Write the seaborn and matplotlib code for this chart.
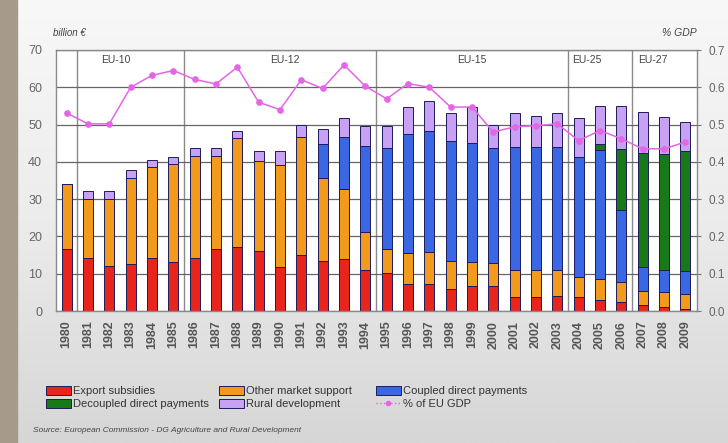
import numpy as np
import matplotlib
matplotlib.use('Agg')
import matplotlib.pyplot as plt
import seaborn as sns
from matplotlib.patches import Patch, Rectangle
from matplotlib.lines import Line2D

years = [str(y) for y in range(1980, 2010)]
export_subsidies = [16.7, 14.2, 12.2, 12.7, 14.2, 13.1, 14.2, 16.7, 17.1, 16.2, 11.8, 14.9, 13.3, 14.0, 10.9,
                    10.2, 7.3, 7.3, 5.8, 6.6, 6.6, 3.8, 3.8, 4.0, 3.8, 3.0, 2.4, 1.5, 1.0, 0.5]
other_market = [17.4, 15.9, 17.9, 22.9, 24.4, 26.4, 27.5, 25.0, 29.2, 23.9, 27.4, 31.8, 22.4, 18.6, 10.2,
                6.4, 8.2, 8.5, 7.7, 6.5, 6.2, 7.1, 7.3, 6.9, 5.3, 5.7, 5.4, 3.8, 4.1, 4.1]
coupled = [0, 0, 0, 0, 0, 0, 0, 0, 0, 0, 0, 0, 9.0, 14.1, 23.1,
           27.2, 32.1, 32.5, 32.1, 31.9, 30.8, 33.2, 33.0, 33.2, 32.3, 34.5, 19.2, 6.5, 5.8, 6.1]
decoupled = [0, 0, 0, 0, 0, 0, 0, 0, 0, 0, 0, 0, 0, 0, 0,
             0, 0, 0, 0, 0, 0, 0, 0, 0, 0, 1.6, 16.5, 30.5, 31.1, 32.2]
rural = [0, 2.0, 2.0, 2.1, 1.8, 1.8, 2.0, 2.0, 2.1, 2.9, 3.6, 3.3, 4.0, 5.1, 5.4,
         5.8, 7.1, 8.0, 7.6, 9.7, 6.4, 9.0, 8.3, 8.9, 10.3, 10.3, 11.6, 11.2, 10.1, 7.7]
gdp_share = [0.531, 0.502, 0.502, 0.600, 0.632, 0.645, 0.621, 0.609, 0.654, 0.560, 0.540, 0.620, 0.597, 0.660, 0.603,
             0.569, 0.610, 0.600, 0.547, 0.547, 0.480, 0.494, 0.497, 0.502, 0.457, 0.484, 0.462, 0.435, 0.435, 0.453]

eras = ['EU-10', 'EU-12', 'EU-15', 'EU-25', 'EU-27']
series_names = ['Export subsidies', 'Other market support', 'Coupled direct payments',
                'Decoupled direct payments', 'Rural development']
colors = ['#e8251b', '#f39a1c', '#3a68e4', '#177a17', '#c8a0f4']
line_color = '#e466e6'
edge = '#1c1c5a'

sns.set_style('white')
plt.rcParams['font.family'] = ['Liberation Sans', 'DejaVu Sans']

fig = plt.figure(figsize=(7.28, 4.43), dpi=100)

# background gradient + left strip
bg = fig.add_axes([0, 0, 1, 1], zorder=-10)
grad = np.linspace(0, 1, 256).reshape(-1, 1)
bg.imshow(grad, aspect='auto', cmap=matplotlib.colors.LinearSegmentedColormap.from_list(
    'bg', ['#f8f8f8', '#ececec', '#d6d6d6']), extent=[0, 1, 0, 1])
bg.add_patch(Rectangle((0, 0), 17 / 728, 1, color='#a69a8b'))
bg.set_xlim(0, 1)
bg.set_ylim(0, 1)
bg.axis('off')

ax = fig.add_axes([56 / 728, 132 / 443, 641 / 728, 261 / 443])
ax.set_facecolor('white')

bottom = np.zeros(len(years))
for vals, col in zip([export_subsidies, other_market, coupled, decoupled, rural], colors):
    sns.barplot(x=years, y=vals, bottom=bottom, color=col, saturation=1, width=0.47,
                edgecolor=edge, linewidth=0.7, errorbar=None, ax=ax)
    bottom = bottom + np.array(vals)

ax.set_xlim(-0.5, 29.55)
ax.set_ylim(0, 70)
ax.set_yticks(range(0, 71, 10))
ax.grid(axis='y', color='#666666', lw=0.9)
ax.set_axisbelow(True)
ax.set_xlabel('')
ax.set_ylabel('')
for s in ax.spines.values():
    s.set_color('#8a8a8a')
    s.set_linewidth(1)
ax.tick_params(axis='y', length=0, pad=10, labelsize=9, labelcolor='#666666')
ax.tick_params(axis='x', length=3, color='#777777', pad=4, labelsize=9, labelcolor='#555555')
for lab in ax.get_xticklabels():
    lab.set_rotation(90)
    lab.set_fontweight('bold')

# enlargement dividers and labels
for xb in [0.5, 5.5, 14.5, 23.5, 26.5]:
    ax.axvline(xb, color='#8a8a8a', lw=1, zorder=0.5)
for name, xp in zip(eras, [2.3, 10.25, 19.0, 24.4, 27.5]):
    ax.text(xp, 67.4, name, ha='center', va='center', fontsize=7.5, color='#444444')

ax2 = ax.twinx()
sns.lineplot(x=np.arange(len(years)), y=gdp_share, ax=ax2, color=line_color, lw=1.1,
             marker='o', markersize=4, markeredgecolor=line_color)
ax2.set_ylim(0, 0.7)
ax2.set_yticks(np.arange(0, 0.71, 0.1))
ax2.set_yticklabels([f'{v:.1f}' for v in np.arange(0, 0.71, 0.1)])
ax2.tick_params(axis='y', length=3, color='#777777', pad=5, labelsize=8.5, labelcolor='#666666')
for s in ax2.spines.values():
    s.set_visible(False)
ax2.grid(False)

fig.text(53 / 728, 1 - 33 / 443, 'billion €', fontsize=7, style='italic', color='#444444', va='center')
fig.text(697 / 728, 1 - 33 / 443, '% GDP', fontsize=7.5, style='italic', color='#444444', va='center', ha='right')
fig.text(33 / 728, 1 - 430 / 443, 'Source: European Commission - DG Agriculture and Rural Development',
         fontsize=6, style='italic', color='#444444', va='center')

# legend in three columns
patches = [Patch(facecolor=c, edgecolor=edge, lw=0.7) for c in colors]
gdp_handle = Line2D([], [], color=line_color, marker='o', markersize=3, lw=1, ls=':')
cols = [([patches[0], patches[3]], [series_names[0], series_names[3]], 40),
        ([patches[1], patches[4]], [series_names[1], series_names[4]], 213),
        ([patches[2], gdp_handle], [series_names[2], '% of EU GDP'], 370)]
for hs, ls, xl in cols:
    fig.legend(hs, ls, loc='upper left', bbox_to_anchor=(xl / 728, 1 - 380 / 443), frameon=False,
               fontsize=8, handlelength=2.3, handleheight=0.9, handletextpad=0.2, labelspacing=0.25,
               borderpad=0, labelcolor='#333333')

fig.savefig('out.png', dpi=100)
